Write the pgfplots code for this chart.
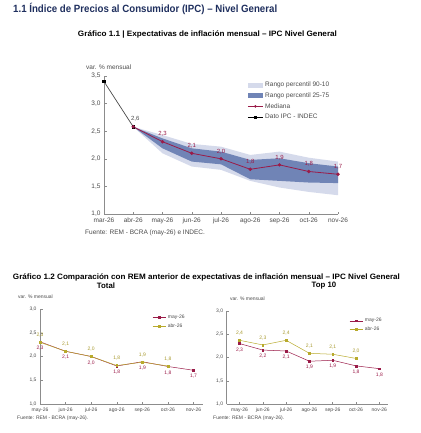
\documentclass[border=0pt]{standalone}
\usepackage{pgfplots}
\pgfplotsset{compat=1.18}
\usepackage{pgfplotstable}
\usepackage{fontspec}
\setmainfont{Liberation Sans}
\usepackage{graphicx}

\definecolor{navy}{HTML}{1F2F5E}
\definecolor{bandlight}{HTML}{D5DAEB}
\definecolor{banddark}{HTML}{7084B6}
\definecolor{med}{HTML}{9A1B48}
\definecolor{axgray}{HTML}{8C8C8C}
\definecolor{ticktext}{HTML}{4A4A4A}
\definecolor{olivel}{HTML}{B8AA2C}
\definecolor{olivet}{HTML}{A89A30}

% polygon of the 90-10 band (upper edge, then lower edge backwards)
\pgfplotstableread{
x y
1 2.58
2 2.43
3 2.27
4 2.22
5 2.07
6 2.13
7 2.02
8 1.95
8 1.34
7 1.40
6 1.48
5 1.60
4 1.80
3 1.86
2 2.10
1 2.58
}\bandouter

% polygon of the 25-75 band
\pgfplotstableread{
x y
1 2.58
2 2.37
3 2.19
4 2.13
5 1.98
6 2.01
7 1.92
8 1.86
8 1.56
7 1.57
6 1.60
5 1.63
4 1.90
3 1.95
2 2.19
1 2.58
}\bandinner

\pgfplotstableread{
x y
1 2.58
2 2.31
3 2.10
4 2.00
5 1.81
6 1.89
7 1.77
8 1.72
}\mediana

\pgfplotstableread{
x y lab
2 2.31 2,3
3 2.10 2,1
4 2.00 2,0
5 1.81 1,8
6 1.89 1,9
7 1.77 1,8
8 1.72 1,7
}\medlab

\pgfplotstableread{
x y
0 3.40
1 2.58
}\ipc

\pgfplotstableread{
x y lab
1 2.58 2,6
}\ipclab

\pgfplotstableread{
x y lab
0 2.31 2,3
1 2.11 2,1
2 2.00 2,0
3 1.80 1,8
4 1.89 1,9
5 1.79 1,8
6 1.71 1,7
}\totmay

\pgfplotstableread{
x y lab
0 2.30 2,3
1 2.11 2,1
2 2.00 2,0
3 1.81 1,8
4 1.88 1,9
5 1.80 1,8
}\totabr

\pgfplotstableread{
x y lab
0 2.30 2,3
1 2.16 2,2
2 2.14 2,1
3 1.92 1,9
4 1.94 1,9
5 1.82 1,8
6 1.76 1,8
}\topmay

\pgfplotstableread{
x y lab
0 2.37 2,4
1 2.27 2,3
2 2.37 2,4
3 2.09 2,1
4 2.07 2,1
5 1.98 2,0
}\topabr

\pgfplotsset{
  base/.style={
    scale only axis,
    axis lines*=left,
    axis line style={axgray, line width=0.5pt},
    tick align=inside,
    major tick length=2.5pt,
    tick style={axgray, line width=0.5pt},
    yticklabel style={/pgf/number format/.cd, fixed, fixed zerofill, precision=1, use comma, assume math mode=true},
    scaled y ticks=false,
    clip=false,
  },
  small/.style={
    base,
    ymin=1, ymax=3, ytick={1,1.5,2,2.5,3},
    xtick={0,1,2,3,4,5,6},
    xticklabels={may-26,jun-26,jul-26,ago-26,sep-26,oct-26,nov-26},
    ticklabel style={font=\fontsize{5}{6}\selectfont, text=ticktext},
    legend style={draw=none, fill=none, font=\fontsize{5}{6}\selectfont, text=ticktext, anchor=north west, legend cell align=left, row sep=-0.5pt},
    legend image code/.code={\draw[mark repeat=2, mark phase=2, #1] plot coordinates {(0pt,0pt) (6.5pt,0pt) (13pt,0pt)};},
  },
  maylab/.style={nodes near coords, point meta=explicit symbolic, nodes near coords style={font=\fontsize{5}{6}\selectfont, text=med, anchor=north, yshift=-0.5pt}},
  abrlab/.style={nodes near coords, point meta=explicit symbolic, nodes near coords style={font=\fontsize{5}{6}\selectfont, text=olivet, anchor=south, yshift=1.5pt}},
  lineimg/.style={legend image code/.code={\draw[mark repeat=2, mark phase=2, ##1] plot coordinates {(0pt,0pt) (7.5pt,0pt) (15pt,0pt)};}},
}

\begin{document}
\begin{tikzpicture}
\useasboundingbox (0pt,0pt) rectangle (420pt,-433pt);

\node[anchor=west, inner sep=0pt, text=navy] at (13pt,-9pt) {\resizebox{264pt}{\height}{\fontsize{10.5}{12}\selectfont\bfseries 1.1 Índice de Precios al Consumidor (IPC) – Nivel General}};
\node[inner sep=0pt] at (207.5pt,-35pt) {\resizebox{259pt}{\height}{\fontsize{7.8}{9}\selectfont\bfseries Gráfico 1.1 | Expectativas de inflación mensual – IPC Nivel General}};

\node[anchor=west, inner sep=0pt, text=ticktext] at (86pt,-66.7pt) {\fontsize{6.5}{7}\selectfont var. \% mensual};

\begin{axis}[
  base,
  width=234pt, height=138pt,
  at={(104pt,-214pt)}, anchor=south west,
  xmin=0, xmax=8, ymin=1, ymax=3.5,
  xtick={0,1,2,3,4,5,6,7,8},
  xticklabels={mar-26,abr-26,may-26,jun-26,jul-26,ago-26,sep-26,oct-26,nov-26},
  ytick={1,1.5,2,2.5,3,3.5},
  ticklabel style={font=\fontsize{6.5}{7}\selectfont, text=ticktext},
  legend style={at={(0.6,0.985)}, anchor=north west, draw=none, fill=none, font=\fontsize{6.5}{7}\selectfont, text=ticktext, legend cell align=left, row sep=0.3pt},
]
\addlegendimage{legend image code/.code={\path[fill=bandlight, draw=none] (0pt,-2.6pt) rectangle (15pt,2.6pt);}}
\addlegendentry{Rango percentil 90-10}
\addlegendimage{legend image code/.code={\path[fill=banddark, draw=none] (0pt,-2.6pt) rectangle (15pt,2.6pt);}}
\addlegendentry{Rango percentil 25-75}
\addlegendimage{lineimg, med, line width=0.6pt, mark=*, mark size=1pt}
\addlegendentry{Mediana}
\addlegendimage{lineimg, black, line width=0.6pt, mark=square*, mark size=1pt}
\addlegendentry{Dato IPC - INDEC}

\addplot[fill=bandlight, draw=none, forget plot] table[x=x, y=y]{\bandouter};
\addplot[fill=banddark, draw=none, forget plot] table[x=x, y=y]{\bandinner};

\addplot[color=ticktext, line width=0.7pt, mark=square*, mark size=1.2pt, mark options={black}, forget plot]
  table[x=x, y=y]{\ipc};
\addplot[draw=none, mark=none, forget plot,
  nodes near coords, point meta=explicit symbolic,
  nodes near coords style={font=\fontsize{6}{7}\selectfont, text=ticktext, anchor=south, xshift=2pt, yshift=2pt}]
  table[x=x, y=y, meta=lab]{\ipclab};
\addplot[color=med, line width=0.8pt, mark=*, mark size=1.3pt, forget plot]
  table[x=x, y=y]{\mediana};
\addplot[draw=none, mark=none, forget plot,
  nodes near coords, point meta=explicit symbolic,
  nodes near coords style={font=\fontsize{6}{7}\selectfont, text=med, anchor=south, yshift=1.5pt}]
  table[x=x, y=y, meta=lab]{\medlab};
\end{axis}

\node[anchor=west, inner sep=0pt, text=ticktext] at (85pt,-233pt) {\fontsize{6.5}{7}\selectfont Fuente: REM - BCRA (may-26) e INDEC.};

\node[inner sep=0pt] at (206.5pt,-277pt) {\resizebox{387pt}{\height}{\fontsize{7.8}{9}\selectfont\bfseries Gráfico 1.2 Comparación con REM anterior de expectativas de inflación mensual – IPC Nivel General}};
\node[inner sep=0pt] at (106pt,-286pt) {\fontsize{7.8}{9}\selectfont\bfseries Total};
\node[inner sep=0pt] at (324pt,-286pt) {\fontsize{7.8}{9}\selectfont\bfseries Top 10};

\node[anchor=west, inner sep=0pt, text=ticktext] at (18pt,-297pt) {\fontsize{5}{6}\selectfont var. \% mensual};
\node[anchor=west, inner sep=0pt, text=ticktext] at (230pt,-299pt) {\fontsize{5}{6}\selectfont var. \% mensual};

\begin{axis}[
  small,
  width=163pt, height=95pt,
  at={(40pt,-404pt)}, anchor=south west,
  xmin=0, xmax=6.37,
  legend style={at={(0.67,0.98)}},
]
\addplot[color=med, line width=0.5pt, mark=square*, mark size=0.9pt, maylab] table[x=x, y=y, meta=lab]{\totmay};
\addlegendentry{may-26}
\addplot[color=olivel, line width=0.5pt, mark=square*, mark size=0.9pt, abrlab] table[x=x, y=y, meta=lab]{\totabr};
\addlegendentry{abr-26}
\end{axis}

\begin{axis}[
  small,
  width=161.5pt, height=93pt,
  at={(226.7pt,-404pt)}, anchor=south west,
  xmin=-0.55, xmax=6.38,
  legend style={at={(0.74,0.967)}},
]
\addplot[color=med, line width=0.5pt, mark=square*, mark size=0.9pt, maylab] table[x=x, y=y, meta=lab]{\topmay};
\addlegendentry{may-26}
\addplot[color=olivel, line width=0.5pt, mark=square*, mark size=0.9pt, abrlab] table[x=x, y=y, meta=lab]{\topabr};
\addlegendentry{abr-26}
\end{axis}

\node[anchor=west, inner sep=0pt, text=ticktext] at (17pt,-418pt) {\fontsize{5}{6}\selectfont Fuente: REM - BCRA (may-26).};
\node[anchor=west, inner sep=0pt, text=ticktext] at (213pt,-418pt) {\fontsize{5}{6}\selectfont Fuente: REM - BCRA (may-26).};
\end{tikzpicture}
\end{document}
